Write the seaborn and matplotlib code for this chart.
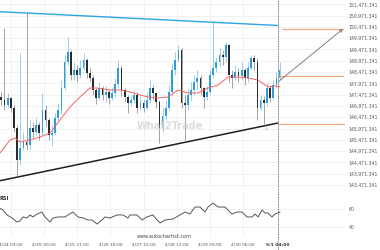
import numpy as np
import matplotlib
matplotlib.use("Agg")
import matplotlib.pyplot as plt
import seaborn as sns

# ---------------- data ----------------
# time axis: hours after 4/24 03:00 ; 2-hour candles
candle_start_hour = -6
candle_step_hours = 2
first_open = 147368
closes = [147235,147014,147323,146881,145995,144579,145110,145376,145243,145995,
          145818,146128,145774,146792,146350,145686,145774,146438,146792,147766,
          148917,149360,148342,148563,148342,148652,149006,148430,148209,147678,
          147323,147766,147456,147589,147323,147545,147943,148652,147678,147368,
          147102,147235,147456,146881,147102,146881,147235,147766,147545,147146,
          145995,146527,146881,147589,148563,149006,149448,147102,147014,147456,
          147678,148032,148209,147766,147368,147589,148342,148652,148917,149227,
          149138,149670,148342,148209,148475,148298,148563,148209,148652,149094,
          148917,146881,147235,147102,147766,147323,147899,148209,148563]
highs = [147589,150422,147545,147368,147014,146128,149316,145818,151087,146350,
         146261,146438,146261,147545,147014,146438,146128,146660,147102,148120,
         149227,150024,149448,148917,148784,149006,149316,149094,148652,148342,
         147766,148032,147855,147855,147678,147810,148209,149006,148784,147766,
         147456,147456,147678,147589,147412,147235,147589,148120,147899,147589,
         147235,146881,147235,147899,148873,149360,149670,149537,147456,147766,
         148032,148342,148563,148342,147810,147855,148563,150688,149138,149537,
         149448,149803,149714,148563,148784,148652,148917,148652,148917,149227,
         149227,149094,147456,147412,148032,147899,148120,148475,148917]
lows = [147014,146792,146881,146704,145818,143870,144357,145021,145021,145021,
        145553,145686,145464,145686,146084,145464,145199,145686,146350,146615,
        147678,148784,148120,148120,148032,148209,148563,148209,148032,147456,
        147058,147235,147235,147146,147058,147235,147368,147766,147412,147146,
        146660,146969,147102,146660,146792,146704,146792,147102,147235,146881,
        145331,145818,146350,146792,147456,148342,148917,146881,145464,146792,
        147235,147456,147678,147456,146881,147235,147456,148209,148475,148696,
        148784,148917,148032,147766,148120,148032,148120,147899,148032,148563,
        148563,146350,146792,146172,146969,147146,147235,147766,148120]

ma_hours = [-6.8,-0.5,2.7,5.8,12.1,18.5,24.8,31.1,37.4,43.8,50.1,54.5,62.7,69.1,75.4,
            81.7,86.8,93.1,99.4,105.8,112.1,118.4,124.7,131.1,137.4,143.7,150.0,156.4,
            162.7,167.1,170.3]
ma_values = [144889,145464,145553,145376,145464,145597,145774,146350,146925,147368,
             147766,147766,147678,147678,147589,147456,147368,147323,147368,147678,
             147545,147545,147766,147899,148253,148253,148209,148120,147810,147855,147810]

rsi_hours = [-6.8,-4.9,-2.4,0.8,3.9,5.8,7.7,10.2,12.1,14.0,16.6,19.7,21.6,24.8,26.7,29.9,
             34.3,36.2,39.3,42.5,45.7,48.8,51.4,54.5,57.7,59.6,62.7,67.2,70.9,74.1,75.4,
             79.8,83.0,86.1,89.9,92.5,94.4,97.5,102.6,107.0,110.2,113.3,116.5,119.7,122.8,
             124.7,127.9,131.1,135.5,139.9,143.1,146.2,149.4,152.6,154.5,156.4,158.9,160.8,
             162.7,165.2,167.1,170.3]
rsi_values = [61.1,59.2,53.5,50.0,45.4,46.6,51.2,50.0,53.5,51.2,54.6,56.9,51.2,45.4,50.0,
              51.2,51.2,53.5,56.9,51.2,50.0,47.7,47.7,43.1,47.7,51.2,50.0,53.5,53.5,50.0,
              53.5,53.5,47.7,51.2,53.5,47.7,44.3,47.7,48.9,53.5,56.9,54.6,62.6,62.6,56.9,
              62.6,67.2,62.6,62.6,54.6,56.9,56.9,51.2,51.2,54.6,51.2,59.2,55.7,55.7,51.2,
              54.6,56.9]

resistance_hours = [-6.8, 169]
resistance_prices = [151144, 150533]
support_hours = [-6.8, 169]
support_prices = [143662, 146217]

signal_hour = 169
target_price = 150365
breakout_price = 148311
support_level = 146159
arrow_hours = [169, 210]
arrow_prices = [148032, 150378]

price_ticks = [143471.341 + 500 * i for i in range(17)]
time_ticks = [0, 21, 42, 63, 84, 105, 126, 147, 169]
time_labels = ['4/24 03:00', '4/25 00:00', '4/25 21:00', '4/26 18:00', '4/27 15:00',
               '4/28 12:00', '4/29 09:00', '4/30 06:00', '5/1 04:00']
rsi_ticks = [40, 60]

# ---------------- figure ----------------
sns.set_theme(style="white")
plt.rcParams['font.family'] = ['DejaVu Sans']

fig = plt.figure(figsize=(3.8, 2.5), dpi=100)
ax = fig.add_axes([0.0, 0.248, 0.908, 0.752])
ax2 = fig.add_axes([0.0, 0.056, 0.908, 0.176], sharex=ax)

xlim = (-6.83, 211.4)
grid_c = '#efefef'

for a in (ax, ax2):
    for s in a.spines.values():
        s.set_visible(False)
    a.set_facecolor('white')
    for t in time_ticks:
        a.axvline(t, color=grid_c, lw=0.6, zorder=0)

# horizontal grid
for p in price_ticks:
    ax.axhline(p, color=grid_c, lw=0.6, zorder=0)
for r in rsi_ticks:
    ax2.axhline(r, color=grid_c, lw=0.6, zorder=0)

# candles
c = np.array(closes, float)
h = np.array(highs, float)
l = np.array(lows, float)
o = np.r_[first_open, c[:-1]]
hours = candle_start_hour + candle_step_hours * np.arange(len(c))
up = c >= o
body_col = np.where(up, '#2d9ddb', '#2b2b2b')
wick_col = np.where(up, '#7cc3ea', '#8a8a8a')
ax.vlines(hours, l, h, colors=wick_col, lw=0.55, zorder=2)
body_h = np.maximum(np.abs(c - o), 30)
ax.bar(hours, body_h, bottom=np.minimum(o, c), width=1.1, color=body_col,
       linewidth=0, zorder=3)

# moving average
sns.lineplot(x=ma_hours, y=ma_values, ax=ax, color='#f26363', lw=0.7, zorder=4)

# trend lines
ax.plot(resistance_hours, resistance_prices, color='#2aa5de', lw=1.0, zorder=5,
        solid_capstyle='butt')
ax.plot(support_hours, support_prices, color='#1f1f1f', lw=1.1, zorder=5,
        solid_capstyle='butt')

# levels
ax.plot([signal_hour + 2.5, xlim[1] - 1.2], [target_price] * 2, color='#f5a27c', lw=0.8, zorder=5)
ax.plot([signal_hour, xlim[1] - 1.2], [breakout_price] * 2, color='#f5a27c', lw=0.8, zorder=5)
ax.plot([signal_hour, xlim[1]], [support_level] * 2, color='#f5a27c', lw=0.8, zorder=5)

# projection arrow
ax.annotate('', xy=(arrow_hours[1], arrow_prices[1]), xytext=(arrow_hours[0], arrow_prices[0]),
            arrowprops=dict(arrowstyle='->', color='#6e6e6e', lw=0.6,
                            shrinkA=0, shrinkB=0, mutation_scale=5), zorder=6)

ax.text(161.4, 145951, 'A', color='#f5a27c', fontsize=3, ha='center', va='center', zorder=6)

# watermark
ax.text(0.493, 0.33, 'What2Trade', transform=ax.transAxes, fontsize=7, fontweight='bold',
        color='#d4d4d4', ha='center', va='center', alpha=0.8, zorder=7)

# signal time dotted line across panels
ax.axvline(signal_hour, color='#555555', lw=0.6, ls=(0, (1, 1)), zorder=8)
ax2.axvline(signal_hour, ymin=-0.33, ymax=1.1, color='#555555', lw=0.6, ls=(0, (1, 1)),
            clip_on=False, zorder=8)

# RSI
sns.lineplot(x=rsi_hours, y=rsi_values, ax=ax2, color='#555555', lw=0.7)
ax2.text(0.0, 0.86, 'RSI', transform=ax2.transAxes, fontsize=3.6, fontweight='bold',
         color='#333333', ha='left', va='center')

# axes settings
ax.set_xlim(*xlim)
ax.set_ylim(143339, 151662)
ax2.set_ylim(29.3, 79.9)

ax.yaxis.tick_right()
ax.set_yticks(price_ticks)
ax.set_yticklabels([f'{p:,.3f}' for p in price_ticks])
ax.tick_params(axis='y', labelsize=3.3, colors='#555555', length=0, pad=2.5)
ax.tick_params(axis='x', bottom=False, labelbottom=False, length=0)

ax2.yaxis.tick_right()
ax2.set_yticks(rsi_ticks)
ax2.set_yticklabels([str(r) for r in rsi_ticks])
ax2.tick_params(axis='y', labelsize=3.3, colors='#555555', length=0, pad=2.5)
ax2.set_xticks(time_ticks)
ax2.set_xticklabels(time_labels)
ax2.tick_params(axis='x', labelsize=3.2, colors='#555555', length=0, pad=5)
lab = ax2.get_xticklabels()[-1]
lab.set_fontweight('bold')
lab.set_color('#333333')
for a in (ax, ax2):
    a.set_xlabel('')
    a.set_ylabel('')
    a.grid(False)

fig.text(164 / 380, 1 - 236 / 250, 'www.autochartist.com', fontsize=3.5, color='#444444',
         ha='center', va='center')

fig.savefig('out.png', dpi=100, facecolor='white')
